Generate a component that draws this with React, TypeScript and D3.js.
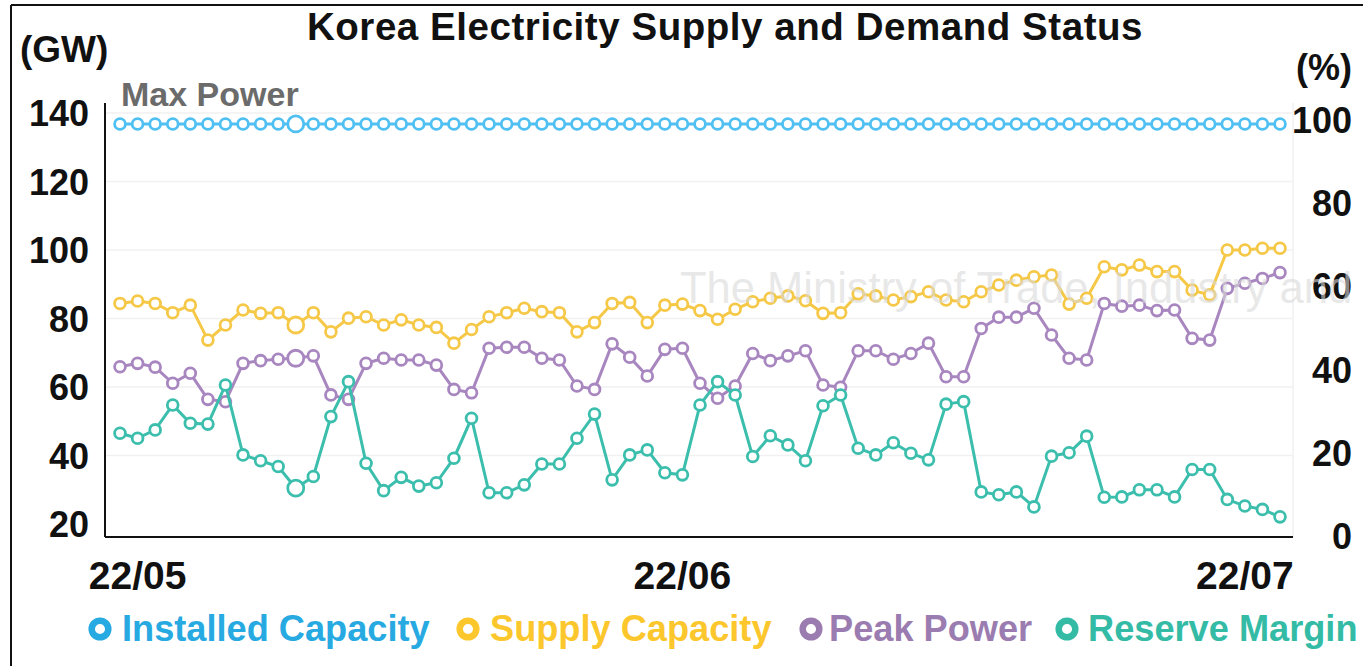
import React from 'react';
import * as d3 from 'd3';

// ---- data ----
const installedCapacity = [
  136.8, 136.8, 136.8, 136.8, 136.8, 136.8, 136.8, 136.8, 136.8, 136.8,
  136.8, 136.8, 136.8, 136.8, 136.8, 136.8, 136.8, 136.8, 136.8, 136.8,
  136.8, 136.8, 136.8, 136.8, 136.8, 136.8, 136.8, 136.8, 136.8, 136.8,
  136.8, 136.8, 136.8, 136.8, 136.8, 136.8, 136.8, 136.8, 136.8, 136.8,
  136.8, 136.8, 136.8, 136.8, 136.8, 136.8, 136.8, 136.8, 136.8, 136.8,
  136.8, 136.8, 136.8, 136.8, 136.8, 136.8, 136.8, 136.8, 136.8, 136.8,
  136.8, 136.8, 136.8, 136.8, 136.8, 136.8, 136.8,
];
const supplyCapacity = [
  84.4, 85.1, 84.4, 81.7, 83.9, 73.7, 78.1, 82.5, 81.5, 81.7,
  78.1, 81.7, 76.1, 80.1, 80.5, 78.1, 79.6, 78.1, 77.4, 72.8,
  76.8, 80.5, 81.7, 83.0, 82.0, 81.7, 76.1, 78.8, 84.4, 84.7,
  78.8, 83.9, 84.2, 82.3, 79.8, 82.7, 84.9, 85.9, 86.6, 85.2,
  81.5, 81.7, 87.2, 86.6, 85.4, 86.4, 87.8, 85.4, 84.9, 87.8,
  89.8, 91.2, 92.2, 92.7, 84.2, 85.9, 95.1, 94.2, 95.6, 93.7,
  93.7, 88.3, 86.9, 100.0, 100.0, 100.5, 100.5,
];
const peakPower = [
  65.9, 66.9, 65.8, 61.1, 64.0, 56.4, 55.7, 66.9, 67.7, 68.1,
  68.4, 69.1, 57.7, 56.4, 66.9, 68.4, 67.9, 67.9, 66.4, 59.3,
  58.3, 71.3, 71.6, 71.6, 68.4, 67.9, 60.3, 59.3, 72.6, 68.7,
  63.2, 71.0, 71.3, 61.1, 56.7, 60.3, 69.8, 67.7, 69.1, 70.6,
  60.6, 59.9, 70.6, 70.6, 68.1, 69.8, 72.8, 63.0, 63.0, 77.1,
  80.4, 80.4, 83.0, 75.2, 68.4, 67.9, 84.4, 83.6, 83.9, 82.3,
  82.5, 74.2, 73.7, 88.8, 90.3, 91.7, 93.4,
];
const reserveMargin = [
  24.7, 23.5, 25.5, 31.5, 27.1, 26.9, 36.3, 19.5, 18.1, 16.7,
  11.5, 14.3, 28.7, 37.1, 17.5, 10.9, 14.1, 12.0, 12.8, 18.7,
  28.3, 10.4, 10.4, 12.3, 17.3, 17.3, 23.5, 29.3, 13.5, 19.5,
  20.7, 15.2, 14.7, 31.5, 37.1, 33.9, 19.1, 24.1, 21.9, 18.1,
  31.3, 33.9, 21.1, 19.5, 22.4, 19.9, 18.3, 31.7, 32.3, 10.6,
  9.9, 10.6, 7.0, 19.2, 20.0, 24.0, 9.3, 9.4, 11.1, 11.1,
  9.4, 16.0, 16.0, 8.8, 7.2, 6.4, 4.6,
];
const leftTicks = [20, 40, 60, 80, 100, 120, 140];
const rightTicks = [0, 20, 40, 60, 80, 100];
const xTickLabels = ['22/05', '22/06', '22/07'];
const xTickIndex = [1, 32, 64];
const highlightIndex = 10;
const seriesNames = ['Installed Capacity', 'Supply Capacity', 'Peak Power', 'Reserve Margin'];

const W = 1363;
const H = 666;
const FONT = "'Liberation Sans', Arial, Helvetica, sans-serif";

export default function App() {
  const x = d3.scaleLinear().domain([0, installedCapacity.length - 1]).range([120, 1280]);
  const yL = d3.scaleLinear().domain([20, 140]).range([524, 113]);
  const yR = d3.scaleLinear().domain([0, 100]).range([536, 120]);

  const plotLeft = 105;
  const plotRight = 1293;
  const plotTop = 103;
  const plotBottom = 537;

  const series = [
    { name: seriesNames[0], values: installedCapacity, y: yL, line: '#4fc0f1', legend: '#27a9e1' },
    { name: seriesNames[1], values: supplyCapacity, y: yL, line: '#f6c848', legend: '#fcc72c' },
    { name: seriesNames[2], values: peakPower, y: yL, line: '#a886bf', legend: '#9b7cb0' },
    { name: seriesNames[3], values: reserveMargin, y: yR, line: '#3cbead', legend: '#34bba6' },
  ];

  const legendLayout = [
    { cx: 100, tx: 122 },
    { cx: 468, tx: 490 },
    { cx: 811, tx: 829 },
    { cx: 1067, tx: 1088 },
  ];

  return (
    <div style={{ position: 'absolute', left: 0, top: 0, width: W, height: H, background: '#fff' }}>
      <svg width={W} height={H} style={{ display: 'block' }} fontFamily={FONT}>
        <rect x={0} y={0} width={W} height={H} fill="#fff" />
        {/* frame */}
        <line x1={11} y1={5} x2={W} y2={5} stroke="#111" strokeWidth={2} />
        <line x1={11} y1={5} x2={11} y2={H} stroke="#111" strokeWidth={2} />

        {/* title */}
        <text x={725} y={40} textAnchor="middle" fontSize={38.5} fontWeight="bold" fill="#111" letterSpacing={0.55}>
          Korea Electricity Supply and Demand Status
        </text>

        {/* gridlines */}
        {leftTicks.slice(1).map((t) => (
          <line key={'g' + t} x1={plotLeft} x2={plotRight} y1={yL(t)} y2={yL(t)} stroke="#f1f1f1" strokeWidth={1.5} />
        ))}
        <line x1={plotRight} x2={plotRight} y1={plotTop} y2={plotBottom} stroke="#f0f0f0" strokeWidth={1.5} />

        {/* axes */}
        <line x1={plotLeft} x2={plotLeft} y1={plotTop} y2={plotBottom} stroke="#111" strokeWidth={2} />
        <line x1={plotLeft} x2={plotRight} y1={plotBottom} y2={plotBottom} stroke="#111" strokeWidth={2} />

        {/* left ticks */}
        {leftTicks.map((t) => (
          <text key={'l' + t} x={89} y={yL(t) + 13} textAnchor="end" fontSize={36} fontWeight="bold" fill="#111">
            {t}
          </text>
        ))}
        {/* right ticks */}
        {rightTicks.map((t) => (
          <text key={'r' + t} x={1352} y={yR(t) + 13} textAnchor="end" fontSize={36} fontWeight="bold" fill="#111">
            {t}
          </text>
        ))}
        <text x={20} y={62} fontSize={37} fontWeight="bold" fill="#111">(GW)</text>
        <text x={1352} y={80} textAnchor="end" fontSize={36} fontWeight="bold" fill="#111">(%)</text>
        <text x={121} y={106} fontSize={34} fontWeight="bold" fill="#6b6b6b">Max Power</text>

        {/* x tick labels */}
        {xTickLabels.map((lab, i) => (
          <text key={lab} x={x(xTickIndex[i])} y={589} textAnchor="middle" fontSize={39} fontWeight="bold" fill="#111">
            {lab}
          </text>
        ))}

        {/* series */}
        {series.map((s) => {
          const gen = d3
            .line<number>()
            .x((_, i) => x(i))
            .y((v) => s.y(v));
          return (
            <g key={s.name}>
              <path d={gen(s.values) || ''} fill="none" stroke={s.line} strokeWidth={3} />
              {s.values.map((v, i) => (
                <circle
                  key={i}
                  cx={x(i)}
                  cy={s.y(v)}
                  r={i === highlightIndex ? 8 : 5.4}
                  fill="#fff"
                  stroke={s.line}
                  strokeWidth={2.8}
                />
              ))}
            </g>
          );
        })}

        {/* watermark */}
        <text x={680} y={303} fontSize={43.5} fill="#d9d9d9" fillOpacity={0.6}>
          The Ministry of Trade, Industry and Energy
        </text>

        {/* legend */}
        {series.map((s, i) => (
          <g key={'lg' + s.name}>
            <circle cx={legendLayout[i].cx} cy={629} r={8.3} fill="#fff" stroke={s.legend} strokeWidth={6.5} />
            <text x={legendLayout[i].tx} y={641} fontSize={36.2} fontWeight="bold" fill={s.legend}>
              {s.name}
            </text>
          </g>
        ))}
      </svg>
    </div>
  );
}
